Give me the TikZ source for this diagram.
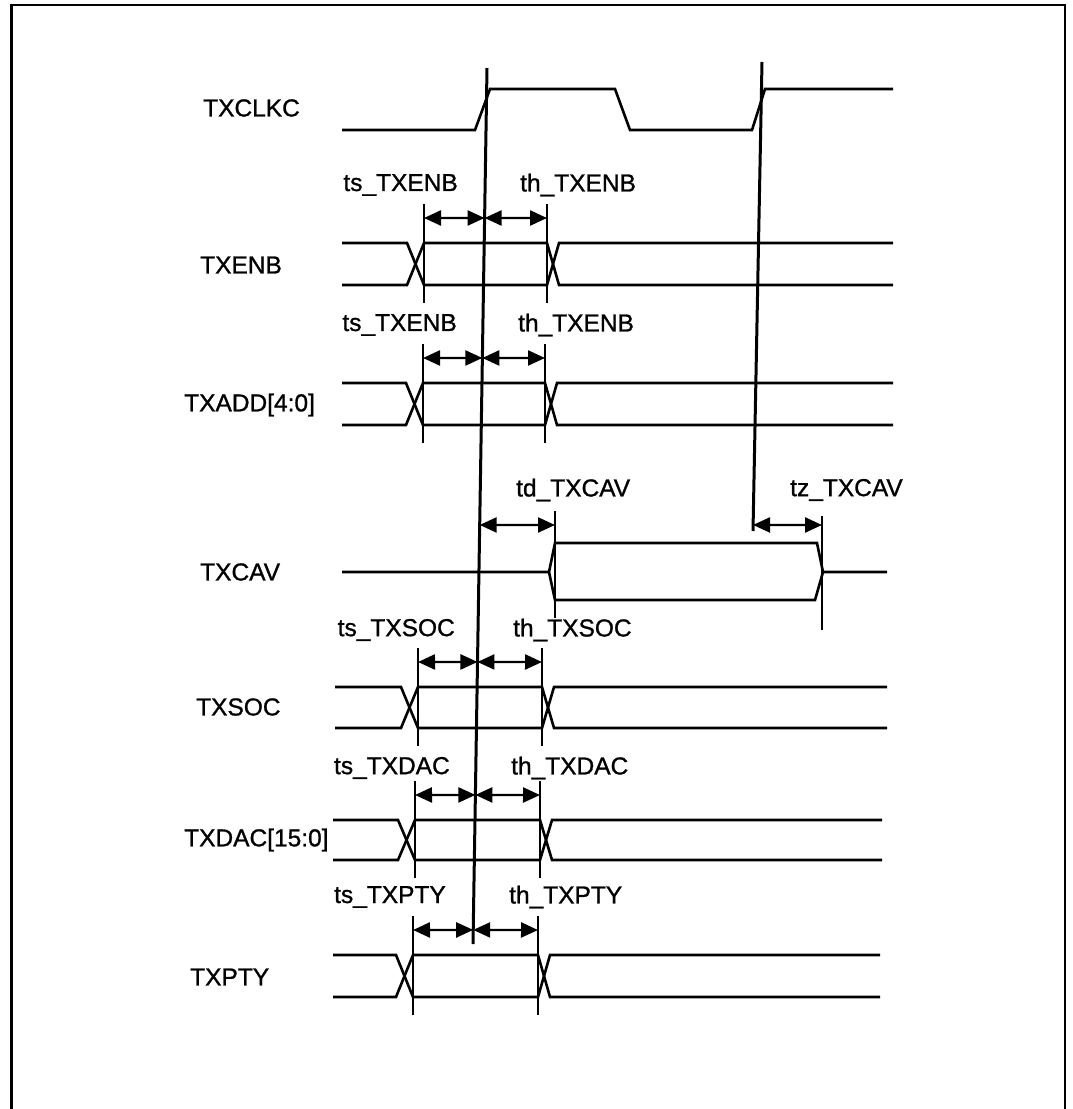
\documentclass[tikz,border=0pt]{standalone}
\usepackage{fontspec}
\setmainfont{Liberation Sans}
\newfontfamily\labfont[FakeBold=1.0]{Liberation Sans}
\usetikzlibrary{arrows.meta}
\newcommand{\busrow}[8]{%
  \coordinate (#1-cl) at (intersection of clkT--clkB and 0,#2--1000,#2);
  \coordinate (#1-s) at (#6,#2);
  \coordinate (#1-h) at (#7,#2);
  \coordinate (#1-st) at (#6,#2-14);
  \coordinate (#1-sb) at (#6,#4+18);
  \coordinate (#1-ht) at (#7,#2-14);
  \coordinate (#1-hb) at (#7,#4+18);
  \draw[tickline] (#1-st) -- (#1-sb);
  \draw[tickline] (#1-ht) -- (#1-hb);
  \draw[dimarr] (#1-s) -- (#1-cl);
  \draw[dimarr] (#1-cl) -- (#1-h);
  \draw[sig] (#5,#3) -- (#6-17,#3) -- (#6,#4) -- (#7,#4) -- (#7+12,#3) -- (#8,#3);
  \draw[sig] (#5,#4) -- (#6-17,#4) -- (#6,#3) -- (#7,#3) -- (#7+12,#4) -- (#8,#4);
}
\begin{document}
\begin{tikzpicture}[x=1pt,y=-1pt,
  sig/.style={line width=2.6pt, line join=miter},
  clk/.style={line width=3pt},
  tickline/.style={line width=2pt},
  dimarr/.style={line width=2.4pt, {Triangle[length=17pt,width=15pt]}-{Triangle[length=17pt,width=15pt]}},
  lab/.style={font=\labfont\fontsize{24.5}{28}\selectfont, inner sep=0pt},
]
\useasboundingbox (0,0) rectangle (1072,1109);
\draw[line width=2.8pt] (11.5,1109) -- (11.5,5) -- (1065,5) -- (1065,1109);

% clock reference lines
\coordinate (clkT) at (487,68);
\coordinate (clkB) at (473,944);
\coordinate (clk2T) at (762,62);
\coordinate (clk2B) at (753,531);
\draw[clk] (clkT) -- (clkB);
\draw[clk] (clk2T) -- (clk2B);

% TXCLKC
\node[lab, anchor=west] (lclk) at (203,108) {TXCLKC};
\draw[sig] (342,130) -- (475,130) -- (490,89) -- (615,89) -- (630,130) -- (752,130) -- (765,89) -- (893,89);

% TXENB
\node[lab, anchor=west] (lenb) at (200,265) {TXENB};
\node[lab, anchor=east] (tsenb) at (458,185) {ts\_TXENB};
\node[lab, anchor=west] (thenb) at (520,185) {th\_TXENB};
\busrow{enb}{218}{243}{285}{342}{424}{547}{893}

% TXADD
\node[lab, anchor=west] (ladd) at (184,405) {TXADD[4:0]};
\node[lab, anchor=east] (tsadd) at (457,325) {ts\_TXENB};
\node[lab, anchor=west] (thadd) at (518,325) {th\_TXENB};
\busrow{add}{358}{383}{425}{342}{423}{545}{893}

% TXCAV
\node[lab, anchor=west] (lcav) at (200,572) {TXCAV};
\node[lab, anchor=west] (tdcav) at (516,490) {td\_TXCAV};
\node[lab, anchor=west] (tzcav) at (790,490) {tz\_TXCAV};
\coordinate (cav-cl) at (intersection of clkT--clkB and 0,525--1000,525);
\coordinate (cav-cl2) at (intersection of clk2T--clk2B and 0,525--1000,525);
\coordinate (cav-d) at (555,525);
\coordinate (cav-z) at (822,525);
\coordinate (cav-dt) at (555,511);
\coordinate (cav-db) at (555,618);
\coordinate (cav-zt) at (822,516);
\coordinate (cav-zb) at (822,630);
\draw[tickline] (cav-dt) -- (cav-db);
\draw[tickline] (cav-zt) -- (cav-zb);
\draw[dimarr] (cav-cl) -- (cav-d);
\draw[dimarr] (cav-cl2) -- (cav-z);
\draw[sig] (342,572) -- (549,572) -- (555,543) -- (817,543) -- (823,572) -- (887,572);
\draw[sig] (549,572) -- (555,600) -- (815,600) -- (823,572);

% TXSOC
\node[lab, anchor=west] (lsoc) at (196,707) {TXSOC};
\node[lab, anchor=east] (tssoc) at (455,630) {ts\_TXSOC};
\node[lab, anchor=west] (thsoc) at (513,630) {th\_TXSOC};
\busrow{soc}{662}{687}{728}{335}{418}{542}{887}

% TXDAC
\node[lab, anchor=west] (ldac) at (184,840) {TXDAC[15:0]};
\node[lab, anchor=east] (tsdac) at (450,768) {ts\_TXDAC};
\node[lab, anchor=west] (thdac) at (511,768) {th\_TXDAC};
\busrow{dac}{795}{820}{860}{333}{415}{540}{882}

% TXPTY
\node[lab, anchor=west] (lpty) at (190,977) {TXPTY};
\node[lab, anchor=east] (tspty) at (446,897) {ts\_TXPTY};
\node[lab, anchor=west] (thpty) at (509,897) {th\_TXPTY};
\busrow{pty}{930}{955}{997}{333}{413}{538}{880}
\end{tikzpicture}
\end{document}
